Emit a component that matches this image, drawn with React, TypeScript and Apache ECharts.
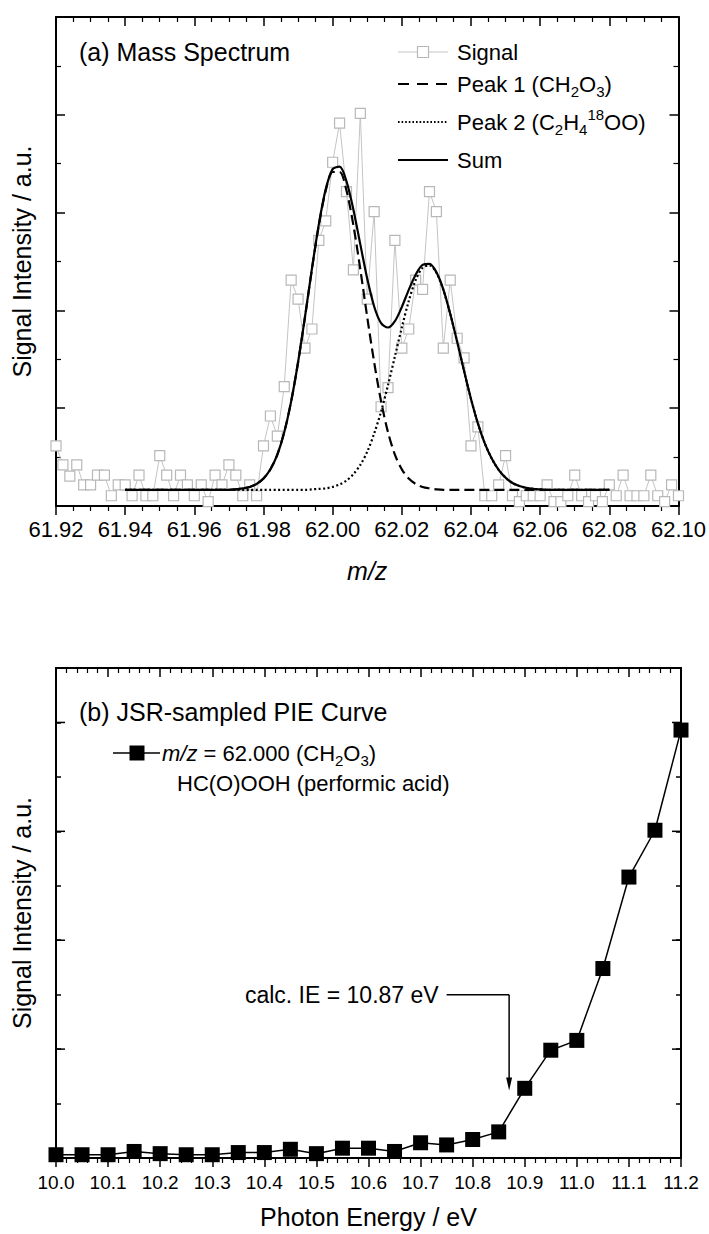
import React, { useEffect, useRef } from "react";
import * as echarts from "echarts";

const FONT = "'Liberation Sans', Arial, Helvetica, sans-serif";

// ---------- (a) Mass spectrum ----------
const massTickLabels = ["61.92", "61.94", "61.96", "61.98", "62.00", "62.02", "62.04", "62.06", "62.08", "62.10"];
const signalStart = 61.92;
const signalStep = 0.002;
const signalValues = [
  1.23, 0.84, 0.61, 0.84, 0.43, 0.43, 0.63, 0.63, 0.21, 0.43,
  0.43, 0.21, 0.63, 0.21, 0.21, 1.03, 0.63, 0.21, 0.63, 0.43,
  0.21, 0.43, 0.09, 0.63, 0.43, 0.84, 0.63, 0.21, 0.43, 0.21,
  1.23, 1.84, 1.43, 2.44, 4.62, 4.23, 3.23, 3.62, 5.43, 5.83,
  7.03, 7.83, 6.43, 4.83, 8.03, 4.23, 6.02, 2.03, 2.42, 5.43,
  3.23, 3.62, 4.62, 4.43, 6.43, 6.02, 3.23, 4.62, 3.43, 3.03,
  1.23, 1.62, 0.21, 0.21, 0.43, 1.03, 0.21, 0.09, 0.21, 0.21,
  0.21, 0.43, 0.09, 0.09, 0.21, 0.63, 0.21, 0.09, 0.21, 0.09,
  0.43, 0.21, 0.63, 0.21, 0.21, 0.21, 0.63, 0.21, 0.09, 0.43,
  0.21,
];
const fitStart = 61.94;
const fitStep = 0.002;
const peak1Values = [
  0.33, 0.33, 0.33, 0.33, 0.33, 0.33, 0.33, 0.33, 0.33, 0.33,
  0.33, 0.33, 0.33, 0.33, 0.33, 0.33, 0.34, 0.36, 0.39, 0.45,
  0.56, 0.75, 1.05, 1.51, 2.14, 2.94, 3.86, 4.84, 5.74, 6.45,
  6.83, 6.83, 6.45, 5.74, 4.84, 3.86, 2.94, 2.14, 1.51, 1.05,
  0.75, 0.56, 0.45, 0.39, 0.36, 0.34, 0.33, 0.33, 0.33, 0.33,
  0.33, 0.33, 0.33, 0.33, 0.33, 0.33, 0.33, 0.33, 0.33, 0.33,
  0.33, 0.33, 0.33, 0.33, 0.33, 0.33, 0.33, 0.33, 0.33, 0.33,
  0.33,
];
const peak2Values = [
  0.33, 0.33, 0.33, 0.33, 0.33, 0.33, 0.33, 0.33, 0.33, 0.33,
  0.33, 0.33, 0.33, 0.33, 0.33, 0.33, 0.33, 0.33, 0.33, 0.33,
  0.33, 0.33, 0.33, 0.33, 0.33, 0.33, 0.33, 0.34, 0.35, 0.36,
  0.39, 0.44, 0.52, 0.65, 0.84, 1.11, 1.48, 1.93, 2.47, 3.06,
  3.65, 4.19, 4.62, 4.87, 4.92, 4.77, 4.42, 3.93, 3.36, 2.76,
  2.19, 1.69, 1.28, 0.97, 0.74, 0.58, 0.47, 0.41, 0.37, 0.35,
  0.34, 0.33, 0.33, 0.33, 0.33, 0.33, 0.33, 0.33, 0.33, 0.33,
  0.33,
];
const sumValues = [
  0.33, 0.33, 0.33, 0.33, 0.33, 0.33, 0.33, 0.33, 0.33, 0.33,
  0.33, 0.33, 0.33, 0.33, 0.33, 0.33, 0.34, 0.36, 0.39, 0.45,
  0.56, 0.75, 1.05, 1.51, 2.14, 2.94, 3.87, 4.85, 5.76, 6.48,
  6.89, 6.94, 6.64, 6.06, 5.35, 4.65, 4.08, 3.74, 3.65, 3.78,
  4.07, 4.42, 4.73, 4.93, 4.95, 4.78, 4.43, 3.93, 3.36, 2.76,
  2.19, 1.69, 1.28, 0.97, 0.74, 0.58, 0.47, 0.41, 0.37, 0.35,
  0.34, 0.33, 0.33, 0.33, 0.33, 0.33, 0.33, 0.33, 0.33, 0.33,
  0.33,
];

// ---------- (b) PIE curve ----------
const energyTickLabels = ["10.0", "10.1", "10.2", "10.3", "10.4", "10.5", "10.6", "10.7", "10.8", "10.9", "11.0", "11.1", "11.2"];
const photonEnergy = [
  10.0, 10.05, 10.1, 10.15, 10.2, 10.25, 10.3, 10.35, 10.4, 10.45,
  10.5, 10.55, 10.6, 10.65, 10.7, 10.75, 10.8, 10.85, 10.9, 10.95,
  11.0, 11.05, 11.1, 11.15, 11.2,
];
const pieValues = [
  0.03, 0.03, 0.03, 0.06, 0.04, 0.03, 0.03, 0.05, 0.05, 0.08,
  0.04, 0.09, 0.09, 0.06, 0.14, 0.12, 0.17, 0.24, 0.64, 0.99,
  1.08, 1.74, 2.58, 3.01, 3.93,
];
const pieMajorTicks = [1, 2, 3, 4];
const ieValue = 10.87;
const ieLabelLevel = 1.5;
const ieLineStart = 10.75;
const ieArrowTip = 0.62;

const massMin = parseFloat(massTickLabels[0]);
const massMax = parseFloat(massTickLabels[massTickLabels.length - 1]);
const energyMin = parseFloat(energyTickLabels[0]);
const energyMax = parseFloat(energyTickLabels[energyTickLabels.length - 1]);

const signalData = signalValues.map((v, i) => [+(signalStart + i * signalStep).toFixed(3), v]);
const fitX = peak1Values.map((_, i) => +(fitStart + i * fitStep).toFixed(3));
const peak1Data = peak1Values.map((v, i) => [fitX[i], v]);
const peak2Data = peak2Values.map((v, i) => [fitX[i], v]);
const sumData = sumValues.map((v, i) => [fitX[i], v]);
const pieData = pieValues.map((v, i) => [photonEnergy[i], v]);

const axisLineStyle = { onZero: false, lineStyle: { color: "#000", width: 2 } };
const tickStyle = { color: "#000", width: 1.5 };
const minorStyle = { color: "#000", width: 1.2 };

function xAxisDef(grid: number, pos: "top" | "bottom", min: number, max: number, interval: number, split: number, extra: any) {
  return {
    gridIndex: grid,
    type: "value",
    position: pos,
    min,
    max,
    interval,
    axisLine: axisLineStyle,
    axisTick: { show: true, inside: pos === "top", length: 9, lineStyle: tickStyle },
    minorTick: { show: true, splitNumber: split, length: 5, lineStyle: minorStyle },
    splitLine: { show: false },
    minorSplitLine: { show: false },
    axisLabel: { show: false },
    ...extra,
  };
}

function yAxisDef(grid: number, pos: "left" | "right", max: number, interval: number, minor: boolean, extra: any) {
  return {
    gridIndex: grid,
    type: "value",
    position: pos,
    min: 0,
    max,
    interval,
    axisLine: axisLineStyle,
    axisTick: { show: true, inside: true, length: minor ? 9 : 5, lineStyle: tickStyle },
    minorTick: { show: minor, splitNumber: 2, length: 5, lineStyle: minorStyle },
    splitLine: { show: false },
    minorSplitLine: { show: false },
    axisLabel: { show: false },
    ...extra,
  };
}

const yName = {
  name: "Signal Intensity / a.u.",
  nameLocation: "middle",
  nameGap: 22,
  nameTextStyle: { fontSize: 25, color: "#000", fontFamily: FONT },
};

const option: any = {
  animation: false,
  backgroundColor: "#fff",
  textStyle: { fontFamily: FONT },
  grid: [
    { left: 56, top: 17, width: 625, height: 489 },
    { left: 56, top: 668, width: 625, height: 490 },
  ],
  xAxis: [
    xAxisDef(0, "bottom", massMin, massMax, 0.02, 4, {
      axisLabel: {
        show: true,
        fontSize: 22,
        color: "#000",
        fontFamily: FONT,
        margin: 12,
        formatter: (v: number) => v.toFixed(2),
      },
      name: "m/z",
      nameLocation: "middle",
      nameGap: 52,
      nameTextStyle: { fontSize: 25, fontStyle: "italic", color: "#000", fontFamily: FONT },
    }),
    xAxisDef(0, "top", massMin, massMax, 0.02, 4, {}),
    xAxisDef(1, "bottom", energyMin, energyMax, 0.1, 5, {
      axisLabel: {
        show: true,
        fontSize: 19,
        color: "#000",
        fontFamily: FONT,
        margin: 15,
        formatter: (v: number) => v.toFixed(1),
      },
      name: "Photon Energy / eV",
      nameLocation: "middle",
      nameGap: 46,
      nameTextStyle: { fontSize: 25, color: "#000", fontFamily: FONT },
    }),
    xAxisDef(1, "top", energyMin, energyMax, 0.1, 5, {}),
  ],
  yAxis: [
    yAxisDef(0, "left", 10, 2, true, yName),
    yAxisDef(0, "right", 10, 2, true, {}),
    yAxisDef(1, "left", 4.5, 0.5, false, yName),
    yAxisDef(1, "right", 4.5, 0.5, false, {}),
  ],
  series: [
    {
      name: "Signal",
      type: "line",
      xAxisIndex: 0,
      yAxisIndex: 0,
      data: signalData,
      symbol: "rect",
      symbolSize: 10,
      showAllSymbol: true,
      lineStyle: { color: "#c4c4c4", width: 1 },
      itemStyle: { color: "#fff", borderColor: "#b8b8b8", borderWidth: 1.2 },
      z: 1,
      silent: true,
    },
    {
      name: "Peak 1",
      type: "line",
      xAxisIndex: 0,
      yAxisIndex: 0,
      data: peak1Data,
      smooth: 0.3,
      symbol: "none",
      lineStyle: { color: "#000", width: 2.2, type: [10, 5] },
      z: 3,
      silent: true,
    },
    {
      name: "Peak 2",
      type: "line",
      xAxisIndex: 0,
      yAxisIndex: 0,
      data: peak2Data,
      smooth: 0.3,
      symbol: "none",
      lineStyle: { color: "#000", width: 2.2, type: [2, 2.5] },
      z: 3,
      silent: true,
    },
    {
      name: "Sum",
      type: "line",
      xAxisIndex: 0,
      yAxisIndex: 0,
      data: sumData,
      smooth: 0.3,
      symbol: "none",
      lineStyle: { color: "#000", width: 2.2 },
      z: 4,
      silent: true,
    },
    {
      name: "PIE",
      type: "line",
      xAxisIndex: 2,
      yAxisIndex: 2,
      data: pieData,
      symbol: "rect",
      symbolSize: 15,
      showAllSymbol: true,
      lineStyle: { color: "#000", width: 1.5 },
      itemStyle: { color: "#000" },
      z: 3,
      silent: true,
    },
  ],
};

const rich = {
  a: { fontSize: 22, fontFamily: FONT, lineHeight: 30, fill: "#000" },
  i: { fontSize: 22, fontFamily: FONT, fontStyle: "italic", lineHeight: 30, fill: "#000" },
  s: { fontSize: 15, fontFamily: FONT, lineHeight: 10, verticalAlign: "bottom", fill: "#000" },
  p: { fontSize: 15, fontFamily: FONT, lineHeight: 18, verticalAlign: "top", fill: "#000" },
};

function txt(text: string, x: number, y: number, size: number, align = "left", extra: any = {}) {
  return {
    type: "text",
    z: 10,
    style: {
      text,
      x,
      y,
      fill: "#000",
      font: `${size}px ${FONT}`,
      align,
      verticalAlign: "middle",
      ...extra,
    },
  };
}

function richTxt(text: string, x: number, y: number) {
  return {
    type: "text",
    z: 10,
    style: { text, x, y, fill: "#000", font: `22px ${FONT}`, verticalAlign: "middle", rich },
  };
}

function seg(x1: number, y1: number, x2: number, y2: number, stroke: string, lineWidth: number, lineDash?: number[]) {
  return {
    type: "line",
    z: 10,
    shape: { x1, y1, x2, y2 },
    style: { stroke, lineWidth, lineDash },
  };
}

export default function App() {
  const ref = useRef<HTMLDivElement>(null);
  useEffect(() => {
    document.body.style.margin = "0";
    const el = ref.current;
    if (!el) return;
    const chart = echarts.init(el, null, { renderer: "svg" });
    chart.setOption(option);
    const p = (x: number, y: number) => chart.convertToPixel({ seriesIndex: 4 }, [x, y]) as number[];
    const start = p(ieLineStart, ieLabelLevel);
    const corner = p(ieValue, ieLabelLevel);
    const tip = p(ieValue, ieArrowTip);
    const majorTicks: any[] = [];
    pieMajorTicks.forEach((v) => {
      const l = p(energyMin, v);
      const r = p(energyMax, v);
      majorTicks.push(seg(l[0], l[1], l[0] + 9, l[1], "#000", 1.5));
      majorTicks.push(seg(r[0] - 9, r[1], r[0], r[1], "#000", 1.5));
    });
    const graphic: any[] = [
      // panel (a)
      txt("(a) Mass Spectrum", 79, 52, 25),
      seg(398, 52, 448, 52, "#c4c4c4", 1),
      {
        type: "rect",
        z: 11,
        shape: { x: 417.5, y: 46.5, width: 11, height: 11 },
        style: { fill: "#fff", stroke: "#b8b8b8", lineWidth: 1.2 },
      },
      txt("Signal", 457, 52, 22),
      seg(398, 84, 448, 84, "#000", 2.2, [11, 8]),
      richTxt("{a|Peak 1 (CH}{s|2}{a|O}{s|3}{a|)}", 457, 84),
      seg(398, 122, 448, 122, "#000", 2, [1.6, 2]),
      richTxt("{a|Peak 2 (C}{s|2}{a|H}{s|4}{p|18}{a|OO)}", 457, 122),
      seg(398, 160, 448, 160, "#000", 2.2),
      txt("Sum", 457, 160, 22),
      // panel (b)
      txt("(b) JSR-sampled PIE Curve", 79, 712, 25),
      seg(113, 753, 160, 753, "#000", 1.5),
      { type: "rect", z: 11, shape: { x: 129.5, y: 745.5, width: 15, height: 15 }, style: { fill: "#000" } },
      richTxt("{i|m/z}{a| = 62.000 (CH}{s|2}{a|O}{s|3}{a|)}", 162, 753),
      txt("HC(O)OOH (performic acid)", 177, 783, 22),
      txt("calc. IE = 10.87 eV", start[0] - 8, start[1], 23, "right"),
      seg(start[0], start[1], corner[0], corner[1], "#000", 1.5),
      seg(corner[0], corner[1], tip[0], tip[1] - 11, "#000", 1.5),
      {
        type: "polygon",
        z: 11,
        shape: { points: [[tip[0], tip[1]], [tip[0] - 3, tip[1] - 13], [tip[0] + 3, tip[1] - 13]] },
        style: { fill: "#000" },
      },
      ...majorTicks,
    ];
    chart.setOption({ graphic });
    return () => chart.dispose();
  }, []);
  return (
    <div
      ref={ref}
      style={{ position: "absolute", left: 0, top: 0, width: 709, height: 1234, background: "#fff" }}
    />
  );
}
